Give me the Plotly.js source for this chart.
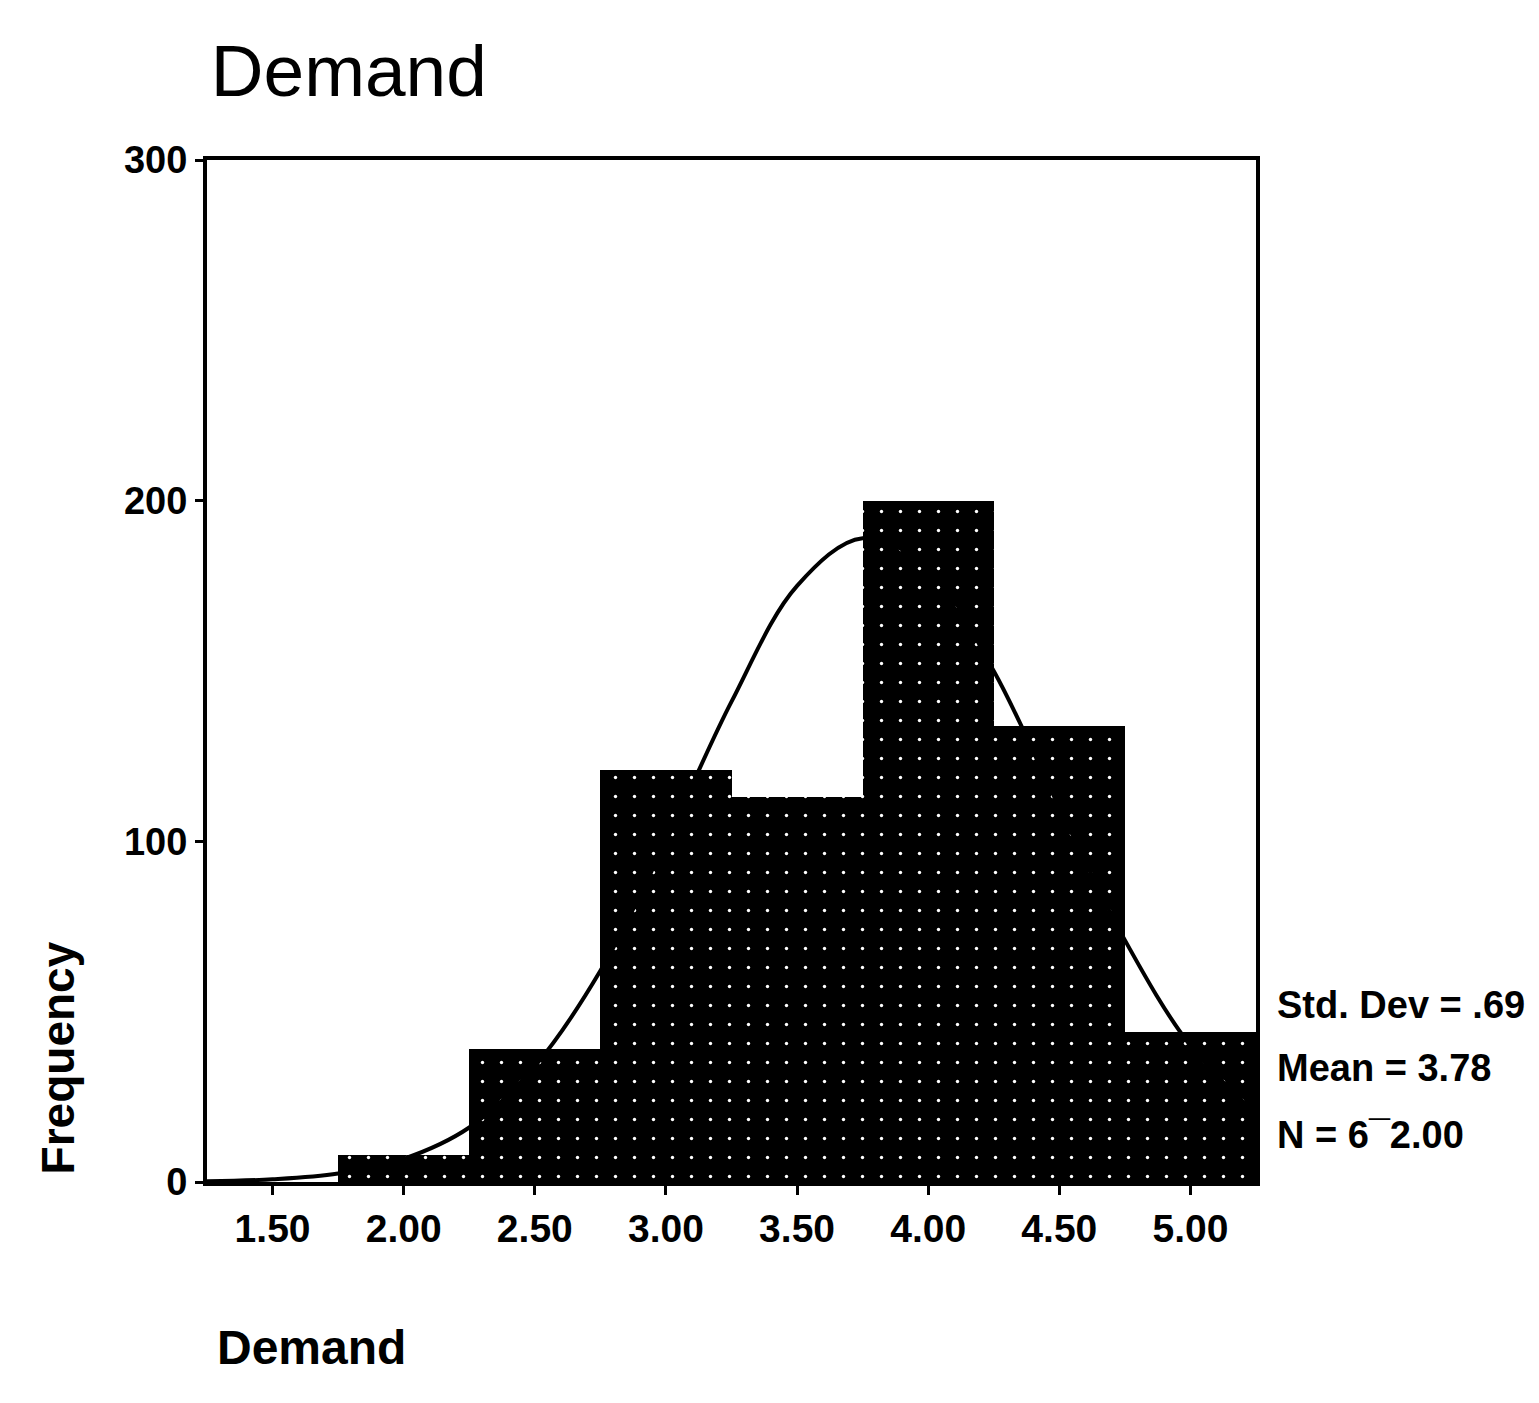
<!DOCTYPE html>
<html>
<head>
<meta charset="utf-8">
<script src="https://cdn.plot.ly/plotly-3.0.1.min.js"></script>
<style>
html,body{margin:0;padding:0;background:#fff;}
#chart{width:1539px;height:1403px;}
</style>
</head>
<body>
<div id="chart"></div>
<script>
// Histogram bins (midpoints) and frequencies
var binMids = [1.5, 2.0, 2.5, 3.0, 3.5, 4.0, 4.5, 5.0];
var binFreq = [0, 8, 39, 121, 113, 200, 134, 44];

// Fitted normal curve
var curveX = [1.25, 1.5, 1.75, 2.0, 2.25, 2.5, 2.75, 3.0, 3.25, 3.5, 3.75, 4.0, 4.25, 4.5, 4.75, 5.0, 5.25];
var curveY = [0.2, 0.8, 2.5, 6.8, 16, 34, 62, 100, 141, 175, 189, 180, 150, 110, 71, 40, 20];

// Tick labels
var xTickVals = [1.5, 2.0, 2.5, 3.0, 3.5, 4.0, 4.5, 5.0];
var xTickText = ['1.50', '2.00', '2.50', '3.00', '3.50', '4.00', '4.50', '5.00'];
var yTickVals = [0, 100, 200, 300];
var yTickText = ['0', '100', '200', '300'];

// Statistics box text
var statLines = ['Std. Dev = .69', 'Mean = 3.78', 'N = 6\u00AF2.00'];

var boldFont = 'Liberation Sans, Arial, sans-serif';

var traces = [
  {
    type: 'bar',
    x: binMids,
    y: binFreq,
    width: 0.5,
    marker: {
      color: '#000',
      line: {width: 0},
      pattern: {shape: '.', fgcolor: '#ffffff', bgcolor: '#000000', size: 19, solidity: 0.025}
    },
    hoverinfo: 'x+y'
  },
  {
    type: 'scatter',
    mode: 'lines',
    x: curveX,
    y: curveY,
    line: {color: '#000', width: 4, shape: 'spline'},
    hoverinfo: 'skip'
  }
];

var statY = [0.173, 0.1115, 0.046];
var annotations = statLines.map(function (t, i) {
  return {
    text: '<b>' + t + '</b>', xref: 'paper', yref: 'paper',
    x: 1.018, y: statY[i], xanchor: 'left', yanchor: 'middle',
    showarrow: false, font: {family: boldFont, size: 38, color: '#000'}
  };
});
annotations.push({
  text: '<b>Demand</b>', xref: 'paper', yref: 'paper',
  x: 0.0076, y: -0.162, xanchor: 'left', yanchor: 'middle',
  showarrow: false, font: {family: boldFont, size: 48, color: '#000'}
});
annotations.push({
  text: '<b>Frequency</b>', xref: 'paper', yref: 'paper',
  x: -0.142, y: 0.121, xanchor: 'center', yanchor: 'middle', textangle: -90,
  showarrow: false, font: {family: boldFont, size: 46, color: '#000'}
});

var layout = {
  width: 1539,
  height: 1403,
  paper_bgcolor: '#fff',
  plot_bgcolor: '#fff',
  showlegend: false,
  bargap: 0,
  margin: {l: 207, r: 283, t: 160, b: 221, pad: 0},
  title: {
    text: 'Demand',
    x: 0.137, xanchor: 'left', xref: 'container',
    y: 1 - 70 / 1403, yanchor: 'middle', yref: 'container',
    font: {family: 'Liberation Sans, Arial, sans-serif', size: 73, color: '#000'}
  },
  xaxis: {
    range: [1.25, 5.25],
    tickvals: xTickVals,
    ticktext: xTickText,
    ticks: 'outside', ticklen: 9, tickwidth: 3, tickcolor: '#000',
    showline: true, linecolor: '#000', linewidth: 4, mirror: true,
    showgrid: false, zeroline: false,
    tickfont: {family: boldFont, size: 39, color: '#000', weight: 'bold'}
  },
  yaxis: {
    range: [0, 300],
    tickvals: yTickVals,
    ticktext: yTickText,
    ticks: 'outside', ticklen: 8, tickwidth: 3, tickcolor: '#000',
    showline: true, linecolor: '#000', linewidth: 4, mirror: true,
    showgrid: false, zeroline: false,
    tickfont: {family: boldFont, size: 38, color: '#000', weight: 'bold'}
  },
  annotations: annotations
};

Plotly.newPlot('chart', traces, layout, {displayModeBar: false, staticPlot: true});
</script>
</body>
</html>
